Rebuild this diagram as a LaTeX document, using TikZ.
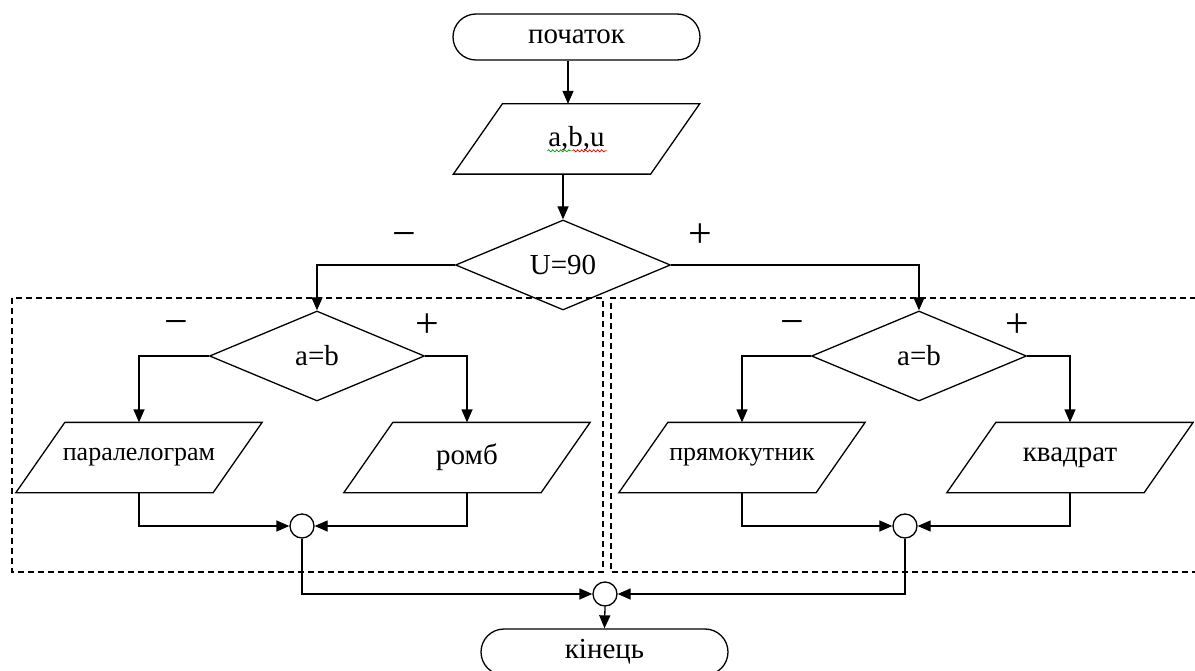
\documentclass[tikz,border=0pt]{standalone}
\usepackage{fontspec}
\setmainfont{Liberation Serif}
\usetikzlibrary{arrows.meta,shapes.geometric,decorations.pathmorphing}
\newcommand\drawpara[1]{\draw ([xshift=49pt]#1.north west) -- (#1.north east) -- ([xshift=-49pt]#1.south east) -- (#1.south west) -- cycle;}
\begin{document}
\begin{tikzpicture}[x=1pt,y=-1pt,
  line width=1.3pt,
  every node/.style={font=\fontsize{29}{32}\selectfont},
  term/.style={draw, rectangle, rounded corners=23pt, minimum width=247pt, minimum height=46pt, inner sep=0pt},
  pbox/.style={rectangle, minimum width=245pt, minimum height=69pt, inner sep=0pt},
  dec/.style={draw, diamond, minimum width=215pt, minimum height=90pt, inner sep=0pt, aspect=2.4},
  junc/.style={draw, circle, minimum size=24pt, inner sep=0pt},
  arr/.style={-{Triangle[length=13pt,width=11pt]}},
  grp/.style={dash pattern=on 6pt off 4pt, line width=1.1pt},
  sgn/.style={font=\fontsize{42}{44}\selectfont, inner sep=0pt},
  small/.style={font=\fontsize{26}{28}\selectfont}
]
\useasboundingbox (0,0) rectangle (1195,671);

% dashed groups
\draw[grp] (12,298) rectangle (603,572);
\draw[grp] (1196,298) -- (611,298) -- (611,572) -- (1196,572);

% nodes
\node[term] (st) at (576.5,37) {початок};
\node[pbox] (io) at (576.5,139) {a,b,u};
\drawpara{io}
\node[dec] (d0) at (563,265) {U=90};

\node[dec] (dL) at (317,356) {a=b};
\node[dec] (dR) at (919,356) {a=b};

\node[pbox,small] (pL) at (139,457.5) {паралелограм};
\drawpara{pL}
\node[pbox] (pR) at (467,457.5) {ромб};
\drawpara{pR}
\node[pbox,small] (qL) at (742,457.5) {прямокутник};
\drawpara{qL}
\node[pbox] (qR) at (1070,457.5) {квадрат};
\drawpara{qR}

\node[junc] (cL) at (302,526) {};
\node[junc] (cR) at (905,526) {};
\node[junc] (cB) at (605,594) {};

\node[term] (en) at (604.5,652) {кінець};

% signs
\node[sgn] (m0) at (404,240) {−};
\node[sgn] (p0) at (700,236) {+};
\node[sgn] (m1) at (176,328) {−};
\node[sgn] (p1) at (427,326) {+};
\node[sgn] (m2) at (792,328) {−};
\node[sgn] (p2) at (1017,326) {+};

% spell-check squiggles
\draw[green!65!black, line width=0.7pt, decorate, decoration={snake, amplitude=1.1pt, segment length=4pt}]
  ([xshift=-29pt,yshift=-4pt]io.base) -- ([xshift=-5pt,yshift=-4pt]io.base);
\draw[red, line width=0.7pt, decorate, decoration={snake, amplitude=1.1pt, segment length=4pt}]
  ([xshift=-4pt,yshift=-4pt]io.base) -- ([xshift=30pt,yshift=-4pt]io.base);

% connectors
\path (st.south) ++(-8.5,0) coordinate (s1);
\draw[arr] (s1) -- (s1 |- io.north);
\draw[arr] (io.south -| d0.north) -- (d0.north);
\draw[arr] (d0.west) -| (dL.north);
\draw[arr] (d0.east) -| (dR.north);
\draw[arr] (dL.west) -| (pL.north);
\draw[arr] (dL.east) -| (pR.north);
\draw[arr] (dR.west) -| (qL.north);
\draw[arr] (dR.east) -| (qR.north);
\draw[arr] (pL.south) |- (cL.west);
\draw[arr] (pR.south) |- (cL.east);
\draw[arr] (qL.south) |- (cR.west);
\draw[arr] (qR.south) |- (cR.east);
\draw[arr] (cL.south) |- (cB.west);
\draw[arr] (cR.south) |- (cB.east);
\draw[arr] (cB.south) -- (en.north);
\end{tikzpicture}
\end{document}
